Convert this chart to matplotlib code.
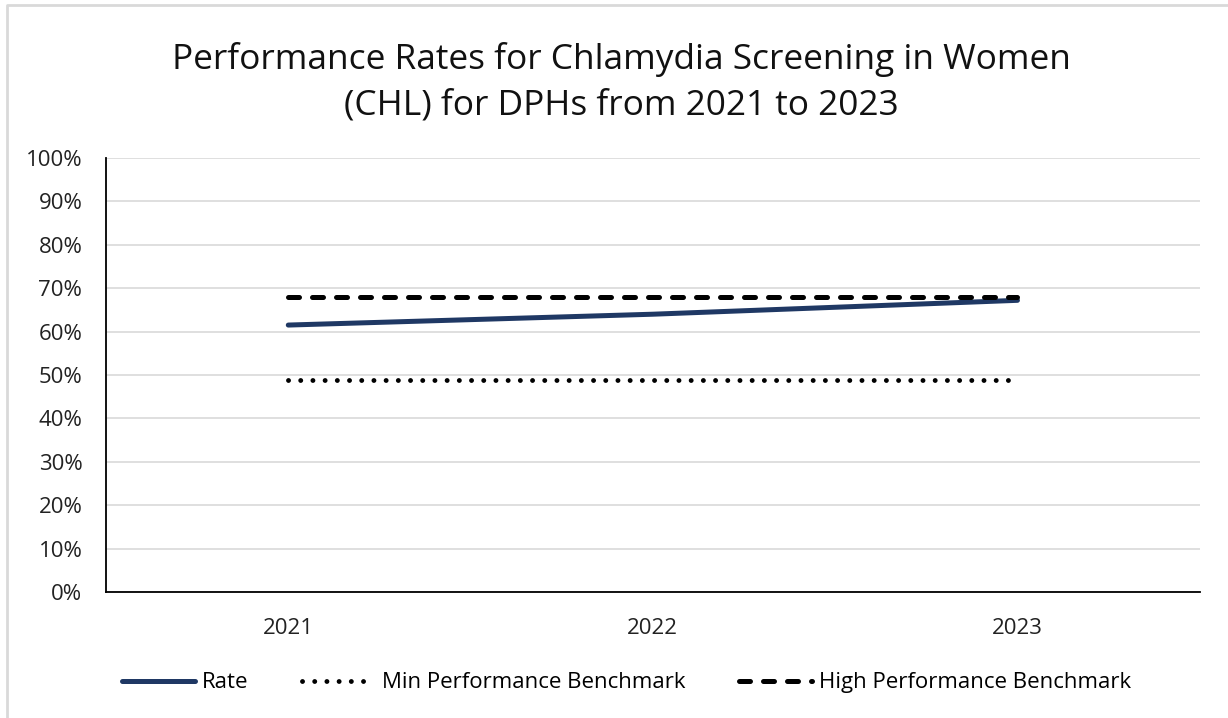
import matplotlib.pyplot as plt
from matplotlib.lines import Line2D
from matplotlib.ticker import PercentFormatter

plt.rcParams['font.family'] = ['Open Sans', 'DejaVu Sans']

years = ['2021', '2022', '2023']
rate = [0.615, 0.640, 0.672]
min_bench = [0.488, 0.488, 0.488]
high_bench = [0.680, 0.680, 0.680]

fig = plt.figure(figsize=(12.28, 7.18), dpi=100)
ax = fig.add_axes([0.0863, 0.1755, 0.8907, 0.6045])
x = range(len(years))

ax.plot(x, rate, color='#1f3864', linewidth=3.6, solid_capstyle='round', label='Rate')
ax.plot(x, min_bench, color='black', linewidth=3.5, linestyle=(0, (0.01, 2.5)),
        dash_capstyle='round', label='Min Performance Benchmark')
ax.plot(x, high_bench, color='black', linewidth=3.6, linestyle=(0, (2.2, 2.6)),
        dash_capstyle='round', label='High Performance Benchmark')

ax.set_xlim(-0.5, 2.5)
ax.set_ylim(0, 1)
ax.set_xticks(list(x))
ax.set_xticklabels(years)
ax.set_yticks([i / 10 for i in range(11)])
ax.yaxis.set_major_formatter(PercentFormatter(1.0, decimals=0))
ax.tick_params(axis='both', labelsize=16, colors='#222222', length=0)
ax.tick_params(axis='x', pad=19)
ax.tick_params(axis='y', pad=17)
ax.grid(axis='y', color='#d9d9d9', linewidth=1.2)
ax.set_axisbelow(True)
for s in ['top', 'right']:
    ax.spines[s].set_visible(False)
for s in ['left', 'bottom']:
    ax.spines[s].set_color('black')
    ax.spines[s].set_linewidth(1.3)

fig.text(0.506, 0.917, 'Performance Rates for Chlamydia Screening in Women',
         fontsize=25.4, ha='center', va='center', color='#111111')
fig.text(0.506, 0.853, '(CHL) for DPHs from 2021 to 2023',
         fontsize=25.4, ha='center', va='center', color='#111111')

fig.legend(loc='center', bbox_to_anchor=(0.51, 0.049), ncol=3, frameon=False,
           fontsize=16, handlelength=3.3, handletextpad=0.3, columnspacing=2.4)

# light outer border (only top and left edges visible in the reference)
fig.lines.append(Line2D([0.0057, 0.0057, 1.0], [0.0, 0.993, 0.993],
                        transform=fig.transFigure, color='#d9d9d9', linewidth=2))

fig.savefig('out.png', dpi=100)
